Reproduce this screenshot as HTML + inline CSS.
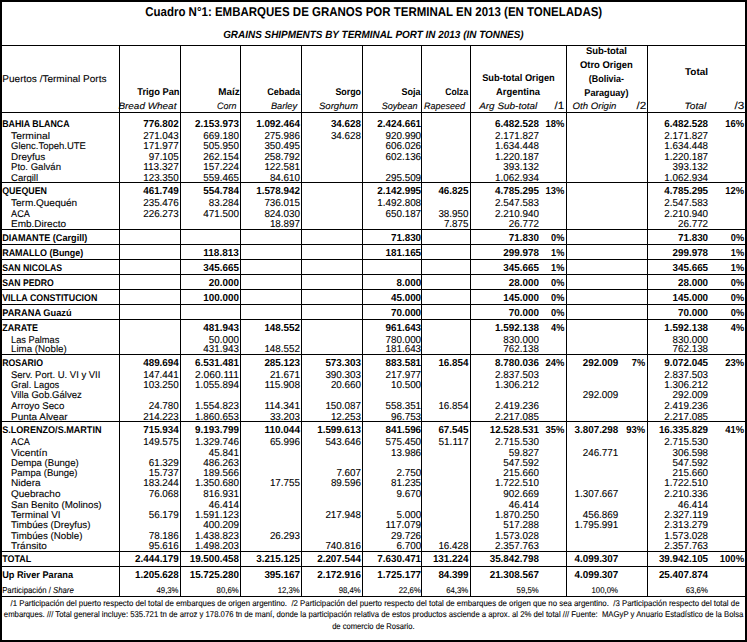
<!DOCTYPE html>
<html lang="es"><head><meta charset="utf-8"><title>Cuadro N°1: Embarques de granos por terminal en 2013</title>
<style>html,body{margin:0;padding:0;background:#fff;}body{width:747px;height:642px;overflow:hidden;}svg{display:block;}text{white-space:pre;}</style>
</head><body>
<svg width="747" height="642" viewBox="0 0 747 642" text-rendering="geometricPrecision">
<rect x="0" y="0" width="747" height="642" fill="#fff"/>
<g font-family='"Liberation Sans", sans-serif' fill="#000" stroke="#000" stroke-width="0.1" stroke-linejoin="round">
<text x="373.70" y="16.10" font-size="12.8" text-anchor="middle" font-weight="bold" stroke="none" textLength="457.0" lengthAdjust="spacingAndGlyphs">Cuadro N°1: EMBARQUES DE GRANOS POR TERMINAL EN 2013 (EN TONELADAS)</text>
<text x="373.40" y="37.70" font-size="10.5" text-anchor="middle" font-weight="bold" stroke="none" font-style="italic" textLength="300.5" lengthAdjust="spacingAndGlyphs">GRAINS SHIPMENTS BY TERMINAL PORT IN 2013 (IN TONNES)</text>
<text x="2.30" y="81.80" font-size="9.7" textLength="104.2" lengthAdjust="spacingAndGlyphs">Puertos /Terminal Ports</text>
<text x="179.50" y="95.00" font-size="9.8" text-anchor="end" font-weight="bold" stroke="none" textLength="42.2" lengthAdjust="spacingAndGlyphs">Trigo Pan</text>
<text x="176.40" y="108.60" font-size="9.2" text-anchor="end" font-style="italic" textLength="58.0" lengthAdjust="spacingAndGlyphs">Bread Wheat</text>
<text x="239.60" y="95.00" font-size="9.8" text-anchor="end" font-weight="bold" stroke="none" textLength="21.4" lengthAdjust="spacingAndGlyphs">Maíz</text>
<text x="236.50" y="108.60" font-size="9.2" text-anchor="end" font-style="italic" textLength="19.4" lengthAdjust="spacingAndGlyphs">Corn</text>
<text x="300.20" y="95.00" font-size="9.8" text-anchor="end" font-weight="bold" stroke="none" textLength="33.0" lengthAdjust="spacingAndGlyphs">Cebada</text>
<text x="297.10" y="108.60" font-size="9.2" text-anchor="end" font-style="italic" textLength="26.2" lengthAdjust="spacingAndGlyphs">Barley</text>
<text x="361.00" y="95.00" font-size="9.8" text-anchor="end" font-weight="bold" stroke="none" textLength="25.6" lengthAdjust="spacingAndGlyphs">Sorgo</text>
<text x="357.90" y="108.60" font-size="9.2" text-anchor="end" font-style="italic" textLength="39.0" lengthAdjust="spacingAndGlyphs">Sorghum</text>
<text x="420.60" y="95.00" font-size="9.8" text-anchor="end" font-weight="bold" stroke="none" textLength="19.0" lengthAdjust="spacingAndGlyphs">Soja</text>
<text x="417.50" y="108.60" font-size="9.2" text-anchor="end" font-style="italic" textLength="35.8" lengthAdjust="spacingAndGlyphs">Soybean</text>
<text x="468.20" y="95.00" font-size="9.8" text-anchor="end" font-weight="bold" stroke="none" textLength="22.9" lengthAdjust="spacingAndGlyphs">Colza</text>
<text x="465.10" y="108.60" font-size="9.2" text-anchor="end" font-style="italic" textLength="41.0" lengthAdjust="spacingAndGlyphs">Rapeseed</text>
<text x="518.50" y="81.00" font-size="9.8" text-anchor="middle" font-weight="bold" stroke="none" textLength="72.6" lengthAdjust="spacingAndGlyphs">Sub-total Origen</text>
<text x="518.00" y="95.00" font-size="9.8" text-anchor="middle" font-weight="bold" stroke="none" textLength="44.0" lengthAdjust="spacingAndGlyphs">Argentina</text>
<text x="479.20" y="108.60" font-size="9.2" font-style="italic" textLength="58.0" lengthAdjust="spacingAndGlyphs">Arg Sub-total</text>
<text x="554.50" y="108.80" font-size="10.4" textLength="9.8" lengthAdjust="spacingAndGlyphs">/1</text>
<text x="606.40" y="53.60" font-size="9.8" text-anchor="middle" font-weight="bold" stroke="none" textLength="41.0" lengthAdjust="spacingAndGlyphs">Sub-total</text>
<text x="606.40" y="67.80" font-size="9.8" text-anchor="middle" font-weight="bold" stroke="none" textLength="53.0" lengthAdjust="spacingAndGlyphs">Otro Origen</text>
<text x="606.40" y="81.70" font-size="9.8" text-anchor="middle" font-weight="bold" stroke="none" textLength="35.2" lengthAdjust="spacingAndGlyphs">(Bolivia-</text>
<text x="606.40" y="95.80" font-size="9.8" text-anchor="middle" font-weight="bold" stroke="none" textLength="44.2" lengthAdjust="spacingAndGlyphs">Paraguay)</text>
<text x="572.60" y="108.60" font-size="9.2" font-style="italic" textLength="43.8" lengthAdjust="spacingAndGlyphs">Oth Origin</text>
<text x="636.40" y="108.80" font-size="10.4" textLength="9.8" lengthAdjust="spacingAndGlyphs">/2</text>
<text x="696.50" y="74.80" font-size="9.8" text-anchor="middle" font-weight="bold" stroke="none" textLength="23.0" lengthAdjust="spacingAndGlyphs">Total</text>
<text x="684.60" y="109.00" font-size="9.2" font-style="italic" textLength="21.6" lengthAdjust="spacingAndGlyphs">Total</text>
<text x="734.60" y="109.00" font-size="10.4" textLength="9.8" lengthAdjust="spacingAndGlyphs">/3</text>
<text x="2.20" y="127.00" font-size="9.7" font-weight="bold" stroke="none" textLength="67.4" lengthAdjust="spacingAndGlyphs">BAHIA BLANCA</text>
<text x="178.80" y="127.00" font-size="10.1" text-anchor="end" font-weight="bold" stroke="none" textLength="35.6" lengthAdjust="spacingAndGlyphs">776.802</text>
<text x="238.90" y="127.00" font-size="10.1" text-anchor="end" font-weight="bold" stroke="none" textLength="43.8" lengthAdjust="spacingAndGlyphs">2.153.973</text>
<text x="300.00" y="127.00" font-size="10.1" text-anchor="end" font-weight="bold" stroke="none" textLength="43.8" lengthAdjust="spacingAndGlyphs">1.092.464</text>
<text x="361.00" y="127.00" font-size="10.1" text-anchor="end" font-weight="bold" stroke="none" textLength="30.1" lengthAdjust="spacingAndGlyphs">34.628</text>
<text x="421.10" y="127.00" font-size="10.1" text-anchor="end" font-weight="bold" stroke="none" textLength="43.8" lengthAdjust="spacingAndGlyphs">2.424.661</text>
<text x="538.90" y="127.00" font-size="10.1" text-anchor="end" font-weight="bold" stroke="none" textLength="43.8" lengthAdjust="spacingAndGlyphs">6.482.528</text>
<text x="564.40" y="127.00" font-size="10.1" text-anchor="end" font-weight="bold" stroke="none" textLength="18.8" lengthAdjust="spacingAndGlyphs">18%</text>
<text x="708.10" y="127.00" font-size="10.1" text-anchor="end" font-weight="bold" stroke="none" textLength="43.8" lengthAdjust="spacingAndGlyphs">6.482.528</text>
<text x="744.10" y="127.00" font-size="10.1" text-anchor="end" font-weight="bold" stroke="none" textLength="18.8" lengthAdjust="spacingAndGlyphs">16%</text>
<text x="11.00" y="138.90" font-size="9.7" textLength="39.0" lengthAdjust="spacingAndGlyphs">Terminal</text>
<text x="178.80" y="138.90" font-size="10.1" text-anchor="end" textLength="35.6" lengthAdjust="spacingAndGlyphs">271.043</text>
<text x="238.90" y="138.90" font-size="10.1" text-anchor="end" textLength="35.6" lengthAdjust="spacingAndGlyphs">669.180</text>
<text x="300.00" y="138.90" font-size="10.1" text-anchor="end" textLength="35.6" lengthAdjust="spacingAndGlyphs">275.986</text>
<text x="361.00" y="138.90" font-size="10.1" text-anchor="end" textLength="30.1" lengthAdjust="spacingAndGlyphs">34.628</text>
<text x="421.10" y="138.90" font-size="10.1" text-anchor="end" textLength="35.6" lengthAdjust="spacingAndGlyphs">920.990</text>
<text x="538.90" y="138.90" font-size="10.1" text-anchor="end" textLength="43.8" lengthAdjust="spacingAndGlyphs">2.171.827</text>
<text x="708.10" y="138.90" font-size="10.1" text-anchor="end" textLength="43.8" lengthAdjust="spacingAndGlyphs">2.171.827</text>
<text x="11.00" y="149.35" font-size="9.7" textLength="74.9" lengthAdjust="spacingAndGlyphs">Glenc.Topeh.UTE</text>
<text x="178.80" y="149.35" font-size="10.1" text-anchor="end" textLength="35.6" lengthAdjust="spacingAndGlyphs">171.977</text>
<text x="238.90" y="149.35" font-size="10.1" text-anchor="end" textLength="35.6" lengthAdjust="spacingAndGlyphs">505.950</text>
<text x="300.00" y="149.35" font-size="10.1" text-anchor="end" textLength="35.6" lengthAdjust="spacingAndGlyphs">350.495</text>
<text x="421.10" y="149.35" font-size="10.1" text-anchor="end" textLength="35.6" lengthAdjust="spacingAndGlyphs">606.026</text>
<text x="538.90" y="149.35" font-size="10.1" text-anchor="end" textLength="43.8" lengthAdjust="spacingAndGlyphs">1.634.448</text>
<text x="708.10" y="149.35" font-size="10.1" text-anchor="end" textLength="43.8" lengthAdjust="spacingAndGlyphs">1.634.448</text>
<text x="11.00" y="159.80" font-size="9.7" textLength="34.1" lengthAdjust="spacingAndGlyphs">Dreyfus</text>
<text x="178.80" y="159.80" font-size="10.1" text-anchor="end" textLength="30.1" lengthAdjust="spacingAndGlyphs">97.105</text>
<text x="238.90" y="159.80" font-size="10.1" text-anchor="end" textLength="35.6" lengthAdjust="spacingAndGlyphs">262.154</text>
<text x="300.00" y="159.80" font-size="10.1" text-anchor="end" textLength="35.6" lengthAdjust="spacingAndGlyphs">258.792</text>
<text x="421.10" y="159.80" font-size="10.1" text-anchor="end" textLength="35.6" lengthAdjust="spacingAndGlyphs">602.136</text>
<text x="538.90" y="159.80" font-size="10.1" text-anchor="end" textLength="43.8" lengthAdjust="spacingAndGlyphs">1.220.187</text>
<text x="708.10" y="159.80" font-size="10.1" text-anchor="end" textLength="43.8" lengthAdjust="spacingAndGlyphs">1.220.187</text>
<text x="11.00" y="170.25" font-size="9.7" textLength="50.0" lengthAdjust="spacingAndGlyphs">Pto. Galván</text>
<text x="178.80" y="170.25" font-size="10.1" text-anchor="end" textLength="35.6" lengthAdjust="spacingAndGlyphs">113.327</text>
<text x="238.90" y="170.25" font-size="10.1" text-anchor="end" textLength="35.6" lengthAdjust="spacingAndGlyphs">157.224</text>
<text x="300.00" y="170.25" font-size="10.1" text-anchor="end" textLength="35.6" lengthAdjust="spacingAndGlyphs">122.581</text>
<text x="538.90" y="170.25" font-size="10.1" text-anchor="end" textLength="35.6" lengthAdjust="spacingAndGlyphs">393.132</text>
<text x="708.10" y="170.25" font-size="10.1" text-anchor="end" textLength="35.6" lengthAdjust="spacingAndGlyphs">393.132</text>
<text x="11.00" y="180.70" font-size="9.7" textLength="27.1" lengthAdjust="spacingAndGlyphs">Cargill</text>
<text x="178.80" y="180.70" font-size="10.1" text-anchor="end" textLength="35.6" lengthAdjust="spacingAndGlyphs">123.350</text>
<text x="238.90" y="180.70" font-size="10.1" text-anchor="end" textLength="35.6" lengthAdjust="spacingAndGlyphs">559.465</text>
<text x="300.00" y="180.70" font-size="10.1" text-anchor="end" textLength="30.1" lengthAdjust="spacingAndGlyphs">84.610</text>
<text x="421.10" y="180.70" font-size="10.1" text-anchor="end" textLength="35.6" lengthAdjust="spacingAndGlyphs">295.509</text>
<text x="538.90" y="180.70" font-size="10.1" text-anchor="end" textLength="43.8" lengthAdjust="spacingAndGlyphs">1.062.934</text>
<text x="708.10" y="180.70" font-size="10.1" text-anchor="end" textLength="43.8" lengthAdjust="spacingAndGlyphs">1.062.934</text>
<text x="2.20" y="194.20" font-size="9.7" font-weight="bold" stroke="none" textLength="44.8" lengthAdjust="spacingAndGlyphs">QUEQUEN</text>
<text x="178.80" y="194.20" font-size="10.1" text-anchor="end" font-weight="bold" stroke="none" textLength="35.6" lengthAdjust="spacingAndGlyphs">461.749</text>
<text x="238.90" y="194.20" font-size="10.1" text-anchor="end" font-weight="bold" stroke="none" textLength="35.6" lengthAdjust="spacingAndGlyphs">554.784</text>
<text x="300.00" y="194.20" font-size="10.1" text-anchor="end" font-weight="bold" stroke="none" textLength="43.8" lengthAdjust="spacingAndGlyphs">1.578.942</text>
<text x="421.10" y="194.20" font-size="10.1" text-anchor="end" font-weight="bold" stroke="none" textLength="43.8" lengthAdjust="spacingAndGlyphs">2.142.995</text>
<text x="468.50" y="194.20" font-size="10.1" text-anchor="end" font-weight="bold" stroke="none" textLength="30.1" lengthAdjust="spacingAndGlyphs">46.825</text>
<text x="538.90" y="194.20" font-size="10.1" text-anchor="end" font-weight="bold" stroke="none" textLength="43.8" lengthAdjust="spacingAndGlyphs">4.785.295</text>
<text x="564.40" y="194.20" font-size="10.1" text-anchor="end" font-weight="bold" stroke="none" textLength="18.8" lengthAdjust="spacingAndGlyphs">13%</text>
<text x="708.10" y="194.20" font-size="10.1" text-anchor="end" font-weight="bold" stroke="none" textLength="43.8" lengthAdjust="spacingAndGlyphs">4.785.295</text>
<text x="744.10" y="194.20" font-size="10.1" text-anchor="end" font-weight="bold" stroke="none" textLength="18.8" lengthAdjust="spacingAndGlyphs">12%</text>
<text x="11.00" y="206.30" font-size="9.7" textLength="66.2" lengthAdjust="spacingAndGlyphs">Term.Quequén</text>
<text x="178.80" y="206.30" font-size="10.1" text-anchor="end" textLength="35.6" lengthAdjust="spacingAndGlyphs">235.476</text>
<text x="238.90" y="206.30" font-size="10.1" text-anchor="end" textLength="30.1" lengthAdjust="spacingAndGlyphs">83.284</text>
<text x="300.00" y="206.30" font-size="10.1" text-anchor="end" textLength="35.6" lengthAdjust="spacingAndGlyphs">736.015</text>
<text x="421.10" y="206.30" font-size="10.1" text-anchor="end" textLength="43.8" lengthAdjust="spacingAndGlyphs">1.492.808</text>
<text x="538.90" y="206.30" font-size="10.1" text-anchor="end" textLength="43.8" lengthAdjust="spacingAndGlyphs">2.547.583</text>
<text x="708.10" y="206.30" font-size="10.1" text-anchor="end" textLength="43.8" lengthAdjust="spacingAndGlyphs">2.547.583</text>
<text x="11.00" y="216.70" font-size="9.7" textLength="18.9" lengthAdjust="spacingAndGlyphs">ACA</text>
<text x="178.80" y="216.70" font-size="10.1" text-anchor="end" textLength="35.6" lengthAdjust="spacingAndGlyphs">226.273</text>
<text x="238.90" y="216.70" font-size="10.1" text-anchor="end" textLength="35.6" lengthAdjust="spacingAndGlyphs">471.500</text>
<text x="300.00" y="216.70" font-size="10.1" text-anchor="end" textLength="35.6" lengthAdjust="spacingAndGlyphs">824.030</text>
<text x="421.10" y="216.70" font-size="10.1" text-anchor="end" textLength="35.6" lengthAdjust="spacingAndGlyphs">650.187</text>
<text x="468.50" y="216.70" font-size="10.1" text-anchor="end" textLength="30.1" lengthAdjust="spacingAndGlyphs">38.950</text>
<text x="538.90" y="216.70" font-size="10.1" text-anchor="end" textLength="43.8" lengthAdjust="spacingAndGlyphs">2.210.940</text>
<text x="708.10" y="216.70" font-size="10.1" text-anchor="end" textLength="43.8" lengthAdjust="spacingAndGlyphs">2.210.940</text>
<text x="11.00" y="227.10" font-size="9.7" textLength="55.0" lengthAdjust="spacingAndGlyphs">Emb.Directo</text>
<text x="300.00" y="227.10" font-size="10.1" text-anchor="end" textLength="30.1" lengthAdjust="spacingAndGlyphs">18.897</text>
<text x="468.50" y="227.10" font-size="10.1" text-anchor="end" textLength="24.6" lengthAdjust="spacingAndGlyphs">7.875</text>
<text x="538.90" y="227.10" font-size="10.1" text-anchor="end" textLength="30.1" lengthAdjust="spacingAndGlyphs">26.772</text>
<text x="708.10" y="227.10" font-size="10.1" text-anchor="end" textLength="30.1" lengthAdjust="spacingAndGlyphs">26.772</text>
<text x="2.20" y="240.60" font-size="9.7" font-weight="bold" stroke="none" textLength="85.1" lengthAdjust="spacingAndGlyphs">DIAMANTE (Cargill)</text>
<text x="421.10" y="240.60" font-size="10.1" text-anchor="end" font-weight="bold" stroke="none" textLength="30.1" lengthAdjust="spacingAndGlyphs">71.830</text>
<text x="538.90" y="240.60" font-size="10.1" text-anchor="end" font-weight="bold" stroke="none" textLength="30.1" lengthAdjust="spacingAndGlyphs">71.830</text>
<text x="564.40" y="240.60" font-size="10.1" text-anchor="end" font-weight="bold" stroke="none" textLength="13.3" lengthAdjust="spacingAndGlyphs">0%</text>
<text x="708.10" y="240.60" font-size="10.1" text-anchor="end" font-weight="bold" stroke="none" textLength="30.1" lengthAdjust="spacingAndGlyphs">71.830</text>
<text x="744.10" y="240.60" font-size="10.1" text-anchor="end" font-weight="bold" stroke="none" textLength="13.3" lengthAdjust="spacingAndGlyphs">0%</text>
<text x="2.20" y="255.80" font-size="9.7" font-weight="bold" stroke="none" textLength="81.1" lengthAdjust="spacingAndGlyphs">RAMALLO (Bunge)</text>
<text x="238.90" y="255.80" font-size="10.1" text-anchor="end" font-weight="bold" stroke="none" textLength="35.6" lengthAdjust="spacingAndGlyphs">118.813</text>
<text x="421.10" y="255.80" font-size="10.1" text-anchor="end" font-weight="bold" stroke="none" textLength="35.6" lengthAdjust="spacingAndGlyphs">181.165</text>
<text x="538.90" y="255.80" font-size="10.1" text-anchor="end" font-weight="bold" stroke="none" textLength="35.6" lengthAdjust="spacingAndGlyphs">299.978</text>
<text x="564.40" y="255.80" font-size="10.1" text-anchor="end" font-weight="bold" stroke="none" textLength="13.3" lengthAdjust="spacingAndGlyphs">1%</text>
<text x="708.10" y="255.80" font-size="10.1" text-anchor="end" font-weight="bold" stroke="none" textLength="35.6" lengthAdjust="spacingAndGlyphs">299.978</text>
<text x="744.10" y="255.80" font-size="10.1" text-anchor="end" font-weight="bold" stroke="none" textLength="13.3" lengthAdjust="spacingAndGlyphs">1%</text>
<text x="2.20" y="270.80" font-size="9.7" font-weight="bold" stroke="none" textLength="60.0" lengthAdjust="spacingAndGlyphs">SAN NICOLAS</text>
<text x="238.90" y="270.80" font-size="10.1" text-anchor="end" font-weight="bold" stroke="none" textLength="35.6" lengthAdjust="spacingAndGlyphs">345.665</text>
<text x="538.90" y="270.80" font-size="10.1" text-anchor="end" font-weight="bold" stroke="none" textLength="35.6" lengthAdjust="spacingAndGlyphs">345.665</text>
<text x="564.40" y="270.80" font-size="10.1" text-anchor="end" font-weight="bold" stroke="none" textLength="13.3" lengthAdjust="spacingAndGlyphs">1%</text>
<text x="708.10" y="270.80" font-size="10.1" text-anchor="end" font-weight="bold" stroke="none" textLength="35.6" lengthAdjust="spacingAndGlyphs">345.665</text>
<text x="744.10" y="270.80" font-size="10.1" text-anchor="end" font-weight="bold" stroke="none" textLength="13.3" lengthAdjust="spacingAndGlyphs">1%</text>
<text x="2.20" y="285.80" font-size="9.7" font-weight="bold" stroke="none" textLength="51.5" lengthAdjust="spacingAndGlyphs">SAN PEDRO</text>
<text x="238.90" y="285.80" font-size="10.1" text-anchor="end" font-weight="bold" stroke="none" textLength="30.1" lengthAdjust="spacingAndGlyphs">20.000</text>
<text x="421.10" y="285.80" font-size="10.1" text-anchor="end" font-weight="bold" stroke="none" textLength="24.6" lengthAdjust="spacingAndGlyphs">8.000</text>
<text x="538.90" y="285.80" font-size="10.1" text-anchor="end" font-weight="bold" stroke="none" textLength="30.1" lengthAdjust="spacingAndGlyphs">28.000</text>
<text x="564.40" y="285.80" font-size="10.1" text-anchor="end" font-weight="bold" stroke="none" textLength="13.3" lengthAdjust="spacingAndGlyphs">0%</text>
<text x="708.10" y="285.80" font-size="10.1" text-anchor="end" font-weight="bold" stroke="none" textLength="30.1" lengthAdjust="spacingAndGlyphs">28.000</text>
<text x="744.10" y="285.80" font-size="10.1" text-anchor="end" font-weight="bold" stroke="none" textLength="13.3" lengthAdjust="spacingAndGlyphs">0%</text>
<text x="2.20" y="300.80" font-size="9.7" font-weight="bold" stroke="none" textLength="95.1" lengthAdjust="spacingAndGlyphs">VILLA CONSTITUCION</text>
<text x="238.90" y="300.80" font-size="10.1" text-anchor="end" font-weight="bold" stroke="none" textLength="35.6" lengthAdjust="spacingAndGlyphs">100.000</text>
<text x="421.10" y="300.80" font-size="10.1" text-anchor="end" font-weight="bold" stroke="none" textLength="30.1" lengthAdjust="spacingAndGlyphs">45.000</text>
<text x="538.90" y="300.80" font-size="10.1" text-anchor="end" font-weight="bold" stroke="none" textLength="35.6" lengthAdjust="spacingAndGlyphs">145.000</text>
<text x="564.40" y="300.80" font-size="10.1" text-anchor="end" font-weight="bold" stroke="none" textLength="13.3" lengthAdjust="spacingAndGlyphs">0%</text>
<text x="708.10" y="300.80" font-size="10.1" text-anchor="end" font-weight="bold" stroke="none" textLength="35.6" lengthAdjust="spacingAndGlyphs">145.000</text>
<text x="744.10" y="300.80" font-size="10.1" text-anchor="end" font-weight="bold" stroke="none" textLength="13.3" lengthAdjust="spacingAndGlyphs">0%</text>
<text x="2.20" y="315.80" font-size="9.7" font-weight="bold" stroke="none" textLength="69.4" lengthAdjust="spacingAndGlyphs">PARANA Guazú</text>
<text x="421.10" y="315.80" font-size="10.1" text-anchor="end" font-weight="bold" stroke="none" textLength="30.1" lengthAdjust="spacingAndGlyphs">70.000</text>
<text x="538.90" y="315.80" font-size="10.1" text-anchor="end" font-weight="bold" stroke="none" textLength="30.1" lengthAdjust="spacingAndGlyphs">70.000</text>
<text x="564.40" y="315.80" font-size="10.1" text-anchor="end" font-weight="bold" stroke="none" textLength="13.3" lengthAdjust="spacingAndGlyphs">0%</text>
<text x="708.10" y="315.80" font-size="10.1" text-anchor="end" font-weight="bold" stroke="none" textLength="30.1" lengthAdjust="spacingAndGlyphs">70.000</text>
<text x="744.10" y="315.80" font-size="10.1" text-anchor="end" font-weight="bold" stroke="none" textLength="13.3" lengthAdjust="spacingAndGlyphs">0%</text>
<text x="2.20" y="331.00" font-size="9.7" font-weight="bold" stroke="none" textLength="35.8" lengthAdjust="spacingAndGlyphs">ZARATE</text>
<text x="238.90" y="331.00" font-size="10.1" text-anchor="end" font-weight="bold" stroke="none" textLength="35.6" lengthAdjust="spacingAndGlyphs">481.943</text>
<text x="300.00" y="331.00" font-size="10.1" text-anchor="end" font-weight="bold" stroke="none" textLength="35.6" lengthAdjust="spacingAndGlyphs">148.552</text>
<text x="421.10" y="331.00" font-size="10.1" text-anchor="end" font-weight="bold" stroke="none" textLength="35.6" lengthAdjust="spacingAndGlyphs">961.643</text>
<text x="538.90" y="331.00" font-size="10.1" text-anchor="end" font-weight="bold" stroke="none" textLength="43.8" lengthAdjust="spacingAndGlyphs">1.592.138</text>
<text x="564.40" y="331.00" font-size="10.1" text-anchor="end" font-weight="bold" stroke="none" textLength="13.3" lengthAdjust="spacingAndGlyphs">4%</text>
<text x="708.10" y="331.00" font-size="10.1" text-anchor="end" font-weight="bold" stroke="none" textLength="43.8" lengthAdjust="spacingAndGlyphs">1.592.138</text>
<text x="744.10" y="331.00" font-size="10.1" text-anchor="end" font-weight="bold" stroke="none" textLength="13.3" lengthAdjust="spacingAndGlyphs">4%</text>
<text x="11.00" y="342.50" font-size="9.7" textLength="48.3" lengthAdjust="spacingAndGlyphs">Las Palmas</text>
<text x="238.90" y="342.50" font-size="10.1" text-anchor="end" textLength="30.1" lengthAdjust="spacingAndGlyphs">50.000</text>
<text x="421.10" y="342.50" font-size="10.1" text-anchor="end" textLength="35.6" lengthAdjust="spacingAndGlyphs">780.000</text>
<text x="538.90" y="342.50" font-size="10.1" text-anchor="end" textLength="35.6" lengthAdjust="spacingAndGlyphs">830.000</text>
<text x="708.10" y="342.50" font-size="10.1" text-anchor="end" textLength="35.6" lengthAdjust="spacingAndGlyphs">830.000</text>
<text x="11.00" y="351.80" font-size="9.7" textLength="55.7" lengthAdjust="spacingAndGlyphs">Lima (Noble)</text>
<text x="238.90" y="351.80" font-size="10.1" text-anchor="end" textLength="35.6" lengthAdjust="spacingAndGlyphs">431.943</text>
<text x="300.00" y="351.80" font-size="10.1" text-anchor="end" textLength="35.6" lengthAdjust="spacingAndGlyphs">148.552</text>
<text x="421.10" y="351.80" font-size="10.1" text-anchor="end" textLength="35.6" lengthAdjust="spacingAndGlyphs">181.643</text>
<text x="538.90" y="351.80" font-size="10.1" text-anchor="end" textLength="35.6" lengthAdjust="spacingAndGlyphs">762.138</text>
<text x="708.10" y="351.80" font-size="10.1" text-anchor="end" textLength="35.6" lengthAdjust="spacingAndGlyphs">762.138</text>
<text x="2.20" y="366.00" font-size="9.7" font-weight="bold" stroke="none" textLength="40.8" lengthAdjust="spacingAndGlyphs">ROSARIO</text>
<text x="178.80" y="366.00" font-size="10.1" text-anchor="end" font-weight="bold" stroke="none" textLength="35.6" lengthAdjust="spacingAndGlyphs">489.694</text>
<text x="238.90" y="366.00" font-size="10.1" text-anchor="end" font-weight="bold" stroke="none" textLength="43.8" lengthAdjust="spacingAndGlyphs">6.531.481</text>
<text x="300.00" y="366.00" font-size="10.1" text-anchor="end" font-weight="bold" stroke="none" textLength="35.6" lengthAdjust="spacingAndGlyphs">285.123</text>
<text x="361.00" y="366.00" font-size="10.1" text-anchor="end" font-weight="bold" stroke="none" textLength="35.6" lengthAdjust="spacingAndGlyphs">573.303</text>
<text x="421.10" y="366.00" font-size="10.1" text-anchor="end" font-weight="bold" stroke="none" textLength="35.6" lengthAdjust="spacingAndGlyphs">883.581</text>
<text x="468.50" y="366.00" font-size="10.1" text-anchor="end" font-weight="bold" stroke="none" textLength="30.1" lengthAdjust="spacingAndGlyphs">16.854</text>
<text x="538.90" y="366.00" font-size="10.1" text-anchor="end" font-weight="bold" stroke="none" textLength="43.8" lengthAdjust="spacingAndGlyphs">8.780.036</text>
<text x="564.40" y="366.00" font-size="10.1" text-anchor="end" font-weight="bold" stroke="none" textLength="18.8" lengthAdjust="spacingAndGlyphs">24%</text>
<text x="618.30" y="366.00" font-size="10.1" text-anchor="end" font-weight="bold" stroke="none" textLength="35.6" lengthAdjust="spacingAndGlyphs">292.009</text>
<text x="645.10" y="366.00" font-size="10.1" text-anchor="end" font-weight="bold" stroke="none" textLength="13.3" lengthAdjust="spacingAndGlyphs">7%</text>
<text x="708.10" y="366.00" font-size="10.1" text-anchor="end" font-weight="bold" stroke="none" textLength="43.8" lengthAdjust="spacingAndGlyphs">9.072.045</text>
<text x="744.10" y="366.00" font-size="10.1" text-anchor="end" font-weight="bold" stroke="none" textLength="18.8" lengthAdjust="spacingAndGlyphs">23%</text>
<text x="11.00" y="377.50" font-size="9.7" textLength="89.4" lengthAdjust="spacingAndGlyphs">Serv. Port. U. VI y VII</text>
<text x="178.80" y="377.50" font-size="10.1" text-anchor="end" textLength="35.6" lengthAdjust="spacingAndGlyphs">147.441</text>
<text x="238.90" y="377.50" font-size="10.1" text-anchor="end" textLength="43.8" lengthAdjust="spacingAndGlyphs">2.060.111</text>
<text x="300.00" y="377.50" font-size="10.1" text-anchor="end" textLength="30.1" lengthAdjust="spacingAndGlyphs">21.671</text>
<text x="361.00" y="377.50" font-size="10.1" text-anchor="end" textLength="35.6" lengthAdjust="spacingAndGlyphs">390.303</text>
<text x="421.10" y="377.50" font-size="10.1" text-anchor="end" textLength="35.6" lengthAdjust="spacingAndGlyphs">217.977</text>
<text x="538.90" y="377.50" font-size="10.1" text-anchor="end" textLength="43.8" lengthAdjust="spacingAndGlyphs">2.837.503</text>
<text x="708.10" y="377.50" font-size="10.1" text-anchor="end" textLength="43.8" lengthAdjust="spacingAndGlyphs">2.837.503</text>
<text x="11.00" y="387.90" font-size="9.7" textLength="48.3" lengthAdjust="spacingAndGlyphs">Gral. Lagos</text>
<text x="178.80" y="387.90" font-size="10.1" text-anchor="end" textLength="35.6" lengthAdjust="spacingAndGlyphs">103.250</text>
<text x="238.90" y="387.90" font-size="10.1" text-anchor="end" textLength="43.8" lengthAdjust="spacingAndGlyphs">1.055.894</text>
<text x="300.00" y="387.90" font-size="10.1" text-anchor="end" textLength="35.6" lengthAdjust="spacingAndGlyphs">115.908</text>
<text x="361.00" y="387.90" font-size="10.1" text-anchor="end" textLength="30.1" lengthAdjust="spacingAndGlyphs">20.660</text>
<text x="421.10" y="387.90" font-size="10.1" text-anchor="end" textLength="30.1" lengthAdjust="spacingAndGlyphs">10.500</text>
<text x="538.90" y="387.90" font-size="10.1" text-anchor="end" textLength="43.8" lengthAdjust="spacingAndGlyphs">1.306.212</text>
<text x="708.10" y="387.90" font-size="10.1" text-anchor="end" textLength="43.8" lengthAdjust="spacingAndGlyphs">1.306.212</text>
<text x="11.00" y="398.30" font-size="9.7" textLength="70.7" lengthAdjust="spacingAndGlyphs">Villa Gob.Gálvez</text>
<text x="618.30" y="398.30" font-size="10.1" text-anchor="end" textLength="35.6" lengthAdjust="spacingAndGlyphs">292.009</text>
<text x="708.10" y="398.30" font-size="10.1" text-anchor="end" textLength="35.6" lengthAdjust="spacingAndGlyphs">292.009</text>
<text x="11.00" y="408.70" font-size="9.7" textLength="53.3" lengthAdjust="spacingAndGlyphs">Arroyo Seco</text>
<text x="178.80" y="408.70" font-size="10.1" text-anchor="end" textLength="30.1" lengthAdjust="spacingAndGlyphs">24.780</text>
<text x="238.90" y="408.70" font-size="10.1" text-anchor="end" textLength="43.8" lengthAdjust="spacingAndGlyphs">1.554.823</text>
<text x="300.00" y="408.70" font-size="10.1" text-anchor="end" textLength="35.6" lengthAdjust="spacingAndGlyphs">114.341</text>
<text x="361.00" y="408.70" font-size="10.1" text-anchor="end" textLength="35.6" lengthAdjust="spacingAndGlyphs">150.087</text>
<text x="421.10" y="408.70" font-size="10.1" text-anchor="end" textLength="35.6" lengthAdjust="spacingAndGlyphs">558.351</text>
<text x="468.50" y="408.70" font-size="10.1" text-anchor="end" textLength="30.1" lengthAdjust="spacingAndGlyphs">16.854</text>
<text x="538.90" y="408.70" font-size="10.1" text-anchor="end" textLength="43.8" lengthAdjust="spacingAndGlyphs">2.419.236</text>
<text x="708.10" y="408.70" font-size="10.1" text-anchor="end" textLength="43.8" lengthAdjust="spacingAndGlyphs">2.419.236</text>
<text x="11.00" y="419.60" font-size="9.7" textLength="56.5" lengthAdjust="spacingAndGlyphs">Punta Alvear</text>
<text x="178.80" y="419.60" font-size="10.1" text-anchor="end" textLength="35.6" lengthAdjust="spacingAndGlyphs">214.223</text>
<text x="238.90" y="419.60" font-size="10.1" text-anchor="end" textLength="43.8" lengthAdjust="spacingAndGlyphs">1.860.653</text>
<text x="300.00" y="419.60" font-size="10.1" text-anchor="end" textLength="30.1" lengthAdjust="spacingAndGlyphs">33.203</text>
<text x="361.00" y="419.60" font-size="10.1" text-anchor="end" textLength="30.1" lengthAdjust="spacingAndGlyphs">12.253</text>
<text x="421.10" y="419.60" font-size="10.1" text-anchor="end" textLength="30.1" lengthAdjust="spacingAndGlyphs">96.753</text>
<text x="538.90" y="419.60" font-size="10.1" text-anchor="end" textLength="43.8" lengthAdjust="spacingAndGlyphs">2.217.085</text>
<text x="708.10" y="419.60" font-size="10.1" text-anchor="end" textLength="43.8" lengthAdjust="spacingAndGlyphs">2.217.085</text>
<text x="2.20" y="432.90" font-size="9.7" font-weight="bold" stroke="none" textLength="99.3" lengthAdjust="spacingAndGlyphs">S.LORENZO/S.MARTIN</text>
<text x="178.80" y="432.90" font-size="10.1" text-anchor="end" font-weight="bold" stroke="none" textLength="35.6" lengthAdjust="spacingAndGlyphs">715.934</text>
<text x="238.90" y="432.90" font-size="10.1" text-anchor="end" font-weight="bold" stroke="none" textLength="43.8" lengthAdjust="spacingAndGlyphs">9.193.799</text>
<text x="300.00" y="432.90" font-size="10.1" text-anchor="end" font-weight="bold" stroke="none" textLength="35.6" lengthAdjust="spacingAndGlyphs">110.044</text>
<text x="361.00" y="432.90" font-size="10.1" text-anchor="end" font-weight="bold" stroke="none" textLength="43.8" lengthAdjust="spacingAndGlyphs">1.599.613</text>
<text x="421.10" y="432.90" font-size="10.1" text-anchor="end" font-weight="bold" stroke="none" textLength="35.6" lengthAdjust="spacingAndGlyphs">841.596</text>
<text x="468.50" y="432.90" font-size="10.1" text-anchor="end" font-weight="bold" stroke="none" textLength="30.1" lengthAdjust="spacingAndGlyphs">67.545</text>
<text x="538.90" y="432.90" font-size="10.1" text-anchor="end" font-weight="bold" stroke="none" textLength="49.2" lengthAdjust="spacingAndGlyphs">12.528.531</text>
<text x="564.40" y="432.90" font-size="10.1" text-anchor="end" font-weight="bold" stroke="none" textLength="18.8" lengthAdjust="spacingAndGlyphs">35%</text>
<text x="618.30" y="432.90" font-size="10.1" text-anchor="end" font-weight="bold" stroke="none" textLength="43.8" lengthAdjust="spacingAndGlyphs">3.807.298</text>
<text x="645.10" y="432.90" font-size="10.1" text-anchor="end" font-weight="bold" stroke="none" textLength="18.8" lengthAdjust="spacingAndGlyphs">93%</text>
<text x="708.10" y="432.90" font-size="10.1" text-anchor="end" font-weight="bold" stroke="none" textLength="49.2" lengthAdjust="spacingAndGlyphs">16.335.829</text>
<text x="744.10" y="432.90" font-size="10.1" text-anchor="end" font-weight="bold" stroke="none" textLength="18.8" lengthAdjust="spacingAndGlyphs">41%</text>
<text x="11.00" y="444.60" font-size="9.7" textLength="18.9" lengthAdjust="spacingAndGlyphs">ACA</text>
<text x="178.80" y="444.60" font-size="10.1" text-anchor="end" textLength="35.6" lengthAdjust="spacingAndGlyphs">149.575</text>
<text x="238.90" y="444.60" font-size="10.1" text-anchor="end" textLength="43.8" lengthAdjust="spacingAndGlyphs">1.329.746</text>
<text x="300.00" y="444.60" font-size="10.1" text-anchor="end" textLength="30.1" lengthAdjust="spacingAndGlyphs">65.996</text>
<text x="361.00" y="444.60" font-size="10.1" text-anchor="end" textLength="35.6" lengthAdjust="spacingAndGlyphs">543.646</text>
<text x="421.10" y="444.60" font-size="10.1" text-anchor="end" textLength="35.6" lengthAdjust="spacingAndGlyphs">575.450</text>
<text x="468.50" y="444.60" font-size="10.1" text-anchor="end" textLength="30.1" lengthAdjust="spacingAndGlyphs">51.117</text>
<text x="538.90" y="444.60" font-size="10.1" text-anchor="end" textLength="43.8" lengthAdjust="spacingAndGlyphs">2.715.530</text>
<text x="708.10" y="444.60" font-size="10.1" text-anchor="end" textLength="43.8" lengthAdjust="spacingAndGlyphs">2.715.530</text>
<text x="11.00" y="455.70" font-size="9.7" textLength="36.3" lengthAdjust="spacingAndGlyphs">Vicentín</text>
<text x="238.90" y="455.70" font-size="10.1" text-anchor="end" textLength="30.1" lengthAdjust="spacingAndGlyphs">45.841</text>
<text x="421.10" y="455.70" font-size="10.1" text-anchor="end" textLength="30.1" lengthAdjust="spacingAndGlyphs">13.986</text>
<text x="538.90" y="455.70" font-size="10.1" text-anchor="end" textLength="30.1" lengthAdjust="spacingAndGlyphs">59.827</text>
<text x="618.30" y="455.70" font-size="10.1" text-anchor="end" textLength="35.6" lengthAdjust="spacingAndGlyphs">246.771</text>
<text x="708.10" y="455.70" font-size="10.1" text-anchor="end" textLength="35.6" lengthAdjust="spacingAndGlyphs">306.598</text>
<text x="11.00" y="465.50" font-size="9.7" textLength="67.7" lengthAdjust="spacingAndGlyphs">Dempa (Bunge)</text>
<text x="178.80" y="465.50" font-size="10.1" text-anchor="end" textLength="30.1" lengthAdjust="spacingAndGlyphs">61.329</text>
<text x="238.90" y="465.50" font-size="10.1" text-anchor="end" textLength="35.6" lengthAdjust="spacingAndGlyphs">486.263</text>
<text x="538.90" y="465.50" font-size="10.1" text-anchor="end" textLength="35.6" lengthAdjust="spacingAndGlyphs">547.592</text>
<text x="708.10" y="465.50" font-size="10.1" text-anchor="end" textLength="35.6" lengthAdjust="spacingAndGlyphs">547.592</text>
<text x="11.00" y="475.90" font-size="9.7" textLength="66.5" lengthAdjust="spacingAndGlyphs">Pampa (Bunge)</text>
<text x="178.80" y="475.90" font-size="10.1" text-anchor="end" textLength="30.1" lengthAdjust="spacingAndGlyphs">15.737</text>
<text x="238.90" y="475.90" font-size="10.1" text-anchor="end" textLength="35.6" lengthAdjust="spacingAndGlyphs">189.566</text>
<text x="361.00" y="475.90" font-size="10.1" text-anchor="end" textLength="24.6" lengthAdjust="spacingAndGlyphs">7.607</text>
<text x="421.10" y="475.90" font-size="10.1" text-anchor="end" textLength="24.6" lengthAdjust="spacingAndGlyphs">2.750</text>
<text x="538.90" y="475.90" font-size="10.1" text-anchor="end" textLength="35.6" lengthAdjust="spacingAndGlyphs">215.660</text>
<text x="708.10" y="475.90" font-size="10.1" text-anchor="end" textLength="35.6" lengthAdjust="spacingAndGlyphs">215.660</text>
<text x="11.00" y="486.30" font-size="9.7" textLength="29.6" lengthAdjust="spacingAndGlyphs">Nidera</text>
<text x="178.80" y="486.30" font-size="10.1" text-anchor="end" textLength="35.6" lengthAdjust="spacingAndGlyphs">183.244</text>
<text x="238.90" y="486.30" font-size="10.1" text-anchor="end" textLength="43.8" lengthAdjust="spacingAndGlyphs">1.350.680</text>
<text x="300.00" y="486.30" font-size="10.1" text-anchor="end" textLength="30.1" lengthAdjust="spacingAndGlyphs">17.755</text>
<text x="361.00" y="486.30" font-size="10.1" text-anchor="end" textLength="30.1" lengthAdjust="spacingAndGlyphs">89.596</text>
<text x="421.10" y="486.30" font-size="10.1" text-anchor="end" textLength="30.1" lengthAdjust="spacingAndGlyphs">81.235</text>
<text x="538.90" y="486.30" font-size="10.1" text-anchor="end" textLength="43.8" lengthAdjust="spacingAndGlyphs">1.722.510</text>
<text x="708.10" y="486.30" font-size="10.1" text-anchor="end" textLength="43.8" lengthAdjust="spacingAndGlyphs">1.722.510</text>
<text x="11.00" y="496.70" font-size="9.7" textLength="49.5" lengthAdjust="spacingAndGlyphs">Quebracho</text>
<text x="178.80" y="496.70" font-size="10.1" text-anchor="end" textLength="30.1" lengthAdjust="spacingAndGlyphs">76.068</text>
<text x="238.90" y="496.70" font-size="10.1" text-anchor="end" textLength="35.6" lengthAdjust="spacingAndGlyphs">816.931</text>
<text x="421.10" y="496.70" font-size="10.1" text-anchor="end" textLength="24.6" lengthAdjust="spacingAndGlyphs">9.670</text>
<text x="538.90" y="496.70" font-size="10.1" text-anchor="end" textLength="35.6" lengthAdjust="spacingAndGlyphs">902.669</text>
<text x="618.30" y="496.70" font-size="10.1" text-anchor="end" textLength="43.8" lengthAdjust="spacingAndGlyphs">1.307.667</text>
<text x="708.10" y="496.70" font-size="10.1" text-anchor="end" textLength="43.8" lengthAdjust="spacingAndGlyphs">2.210.336</text>
<text x="11.00" y="507.50" font-size="9.7" textLength="90.6" lengthAdjust="spacingAndGlyphs">San Benito (Molinos)</text>
<text x="238.90" y="507.50" font-size="10.1" text-anchor="end" textLength="30.1" lengthAdjust="spacingAndGlyphs">46.414</text>
<text x="538.90" y="507.50" font-size="10.1" text-anchor="end" textLength="30.1" lengthAdjust="spacingAndGlyphs">46.414</text>
<text x="708.10" y="507.50" font-size="10.1" text-anchor="end" textLength="30.1" lengthAdjust="spacingAndGlyphs">46.414</text>
<text x="11.00" y="517.50" font-size="9.7" textLength="49.5" lengthAdjust="spacingAndGlyphs">Terminal VI</text>
<text x="178.80" y="517.50" font-size="10.1" text-anchor="end" textLength="30.1" lengthAdjust="spacingAndGlyphs">56.179</text>
<text x="238.90" y="517.50" font-size="10.1" text-anchor="end" textLength="43.8" lengthAdjust="spacingAndGlyphs">1.591.123</text>
<text x="361.00" y="517.50" font-size="10.1" text-anchor="end" textLength="35.6" lengthAdjust="spacingAndGlyphs">217.948</text>
<text x="421.10" y="517.50" font-size="10.1" text-anchor="end" textLength="24.6" lengthAdjust="spacingAndGlyphs">5.000</text>
<text x="538.90" y="517.50" font-size="10.1" text-anchor="end" textLength="43.8" lengthAdjust="spacingAndGlyphs">1.870.250</text>
<text x="618.30" y="517.50" font-size="10.1" text-anchor="end" textLength="35.6" lengthAdjust="spacingAndGlyphs">456.869</text>
<text x="708.10" y="517.50" font-size="10.1" text-anchor="end" textLength="43.8" lengthAdjust="spacingAndGlyphs">2.327.119</text>
<text x="11.00" y="528.30" font-size="9.7" textLength="79.4" lengthAdjust="spacingAndGlyphs">Timbúes (Dreyfus)</text>
<text x="238.90" y="528.30" font-size="10.1" text-anchor="end" textLength="35.6" lengthAdjust="spacingAndGlyphs">400.209</text>
<text x="421.10" y="528.30" font-size="10.1" text-anchor="end" textLength="35.6" lengthAdjust="spacingAndGlyphs">117.079</text>
<text x="538.90" y="528.30" font-size="10.1" text-anchor="end" textLength="35.6" lengthAdjust="spacingAndGlyphs">517.288</text>
<text x="618.30" y="528.30" font-size="10.1" text-anchor="end" textLength="43.8" lengthAdjust="spacingAndGlyphs">1.795.991</text>
<text x="708.10" y="528.30" font-size="10.1" text-anchor="end" textLength="43.8" lengthAdjust="spacingAndGlyphs">2.313.279</text>
<text x="11.00" y="538.80" font-size="9.7" textLength="71.4" lengthAdjust="spacingAndGlyphs">Timbúes (Noble)</text>
<text x="178.80" y="538.80" font-size="10.1" text-anchor="end" textLength="30.1" lengthAdjust="spacingAndGlyphs">78.186</text>
<text x="238.90" y="538.80" font-size="10.1" text-anchor="end" textLength="43.8" lengthAdjust="spacingAndGlyphs">1.438.823</text>
<text x="300.00" y="538.80" font-size="10.1" text-anchor="end" textLength="30.1" lengthAdjust="spacingAndGlyphs">26.293</text>
<text x="421.10" y="538.80" font-size="10.1" text-anchor="end" textLength="30.1" lengthAdjust="spacingAndGlyphs">29.726</text>
<text x="538.90" y="538.80" font-size="10.1" text-anchor="end" textLength="43.8" lengthAdjust="spacingAndGlyphs">1.573.028</text>
<text x="708.10" y="538.80" font-size="10.1" text-anchor="end" textLength="43.8" lengthAdjust="spacingAndGlyphs">1.573.028</text>
<text x="11.00" y="549.30" font-size="9.7" textLength="35.8" lengthAdjust="spacingAndGlyphs">Tránsito</text>
<text x="178.80" y="549.30" font-size="10.1" text-anchor="end" textLength="30.1" lengthAdjust="spacingAndGlyphs">95.616</text>
<text x="238.90" y="549.30" font-size="10.1" text-anchor="end" textLength="43.8" lengthAdjust="spacingAndGlyphs">1.498.203</text>
<text x="361.00" y="549.30" font-size="10.1" text-anchor="end" textLength="35.6" lengthAdjust="spacingAndGlyphs">740.816</text>
<text x="421.10" y="549.30" font-size="10.1" text-anchor="end" textLength="24.6" lengthAdjust="spacingAndGlyphs">6.700</text>
<text x="468.50" y="549.30" font-size="10.1" text-anchor="end" textLength="30.1" lengthAdjust="spacingAndGlyphs">16.428</text>
<text x="538.90" y="549.30" font-size="10.1" text-anchor="end" textLength="43.8" lengthAdjust="spacingAndGlyphs">2.357.763</text>
<text x="708.10" y="549.30" font-size="10.1" text-anchor="end" textLength="43.8" lengthAdjust="spacingAndGlyphs">2.357.763</text>
<text x="2.20" y="562.20" font-size="9.7" font-weight="bold" stroke="none" textLength="29.1" lengthAdjust="spacingAndGlyphs">TOTAL</text>
<text x="178.80" y="562.20" font-size="10.1" text-anchor="end" font-weight="bold" stroke="none" textLength="43.8" lengthAdjust="spacingAndGlyphs">2.444.179</text>
<text x="238.90" y="562.20" font-size="10.1" text-anchor="end" font-weight="bold" stroke="none" textLength="49.2" lengthAdjust="spacingAndGlyphs">19.500.458</text>
<text x="300.00" y="562.20" font-size="10.1" text-anchor="end" font-weight="bold" stroke="none" textLength="43.8" lengthAdjust="spacingAndGlyphs">3.215.125</text>
<text x="361.00" y="562.20" font-size="10.1" text-anchor="end" font-weight="bold" stroke="none" textLength="43.8" lengthAdjust="spacingAndGlyphs">2.207.544</text>
<text x="421.10" y="562.20" font-size="10.1" text-anchor="end" font-weight="bold" stroke="none" textLength="43.8" lengthAdjust="spacingAndGlyphs">7.630.471</text>
<text x="468.50" y="562.20" font-size="10.1" text-anchor="end" font-weight="bold" stroke="none" textLength="35.6" lengthAdjust="spacingAndGlyphs">131.224</text>
<text x="538.90" y="562.20" font-size="10.1" text-anchor="end" font-weight="bold" stroke="none" textLength="49.2" lengthAdjust="spacingAndGlyphs">35.842.798</text>
<text x="618.30" y="562.20" font-size="10.1" text-anchor="end" font-weight="bold" stroke="none" textLength="43.8" lengthAdjust="spacingAndGlyphs">4.099.307</text>
<text x="708.10" y="562.20" font-size="10.1" text-anchor="end" font-weight="bold" stroke="none" textLength="49.2" lengthAdjust="spacingAndGlyphs">39.942.105</text>
<text x="744.10" y="562.20" font-size="10.1" text-anchor="end" font-weight="bold" stroke="none" textLength="24.3" lengthAdjust="spacingAndGlyphs">100%</text>
<text x="2.20" y="578.00" font-size="9.7" font-weight="bold" stroke="none" textLength="70.8" lengthAdjust="spacingAndGlyphs">Up River Parana</text>
<text x="178.80" y="578.00" font-size="10.1" text-anchor="end" font-weight="bold" stroke="none" textLength="43.8" lengthAdjust="spacingAndGlyphs">1.205.628</text>
<text x="238.90" y="578.00" font-size="10.1" text-anchor="end" font-weight="bold" stroke="none" textLength="49.2" lengthAdjust="spacingAndGlyphs">15.725.280</text>
<text x="300.00" y="578.00" font-size="10.1" text-anchor="end" font-weight="bold" stroke="none" textLength="35.6" lengthAdjust="spacingAndGlyphs">395.167</text>
<text x="361.00" y="578.00" font-size="10.1" text-anchor="end" font-weight="bold" stroke="none" textLength="43.8" lengthAdjust="spacingAndGlyphs">2.172.916</text>
<text x="421.10" y="578.00" font-size="10.1" text-anchor="end" font-weight="bold" stroke="none" textLength="43.8" lengthAdjust="spacingAndGlyphs">1.725.177</text>
<text x="468.50" y="578.00" font-size="10.1" text-anchor="end" font-weight="bold" stroke="none" textLength="30.1" lengthAdjust="spacingAndGlyphs">84.399</text>
<text x="538.90" y="578.00" font-size="10.1" text-anchor="end" font-weight="bold" stroke="none" textLength="49.2" lengthAdjust="spacingAndGlyphs">21.308.567</text>
<text x="618.30" y="578.00" font-size="10.1" text-anchor="end" font-weight="bold" stroke="none" textLength="43.8" lengthAdjust="spacingAndGlyphs">4.099.307</text>
<text x="708.10" y="578.00" font-size="10.1" text-anchor="end" font-weight="bold" stroke="none" textLength="49.2" lengthAdjust="spacingAndGlyphs">25.407.874</text>
<text x="2.2" y="592.8" font-size="8.6" textLength="71.5" lengthAdjust="spacingAndGlyphs">Participación / <tspan font-style="italic">Share</tspan></text>
<text x="178.50" y="592.80" font-size="8.4" text-anchor="end" textLength="22.0" lengthAdjust="spacingAndGlyphs">49,3%</text>
<text x="238.60" y="592.80" font-size="8.4" text-anchor="end" textLength="22.0" lengthAdjust="spacingAndGlyphs">80,6%</text>
<text x="299.70" y="592.80" font-size="8.4" text-anchor="end" textLength="22.0" lengthAdjust="spacingAndGlyphs">12,3%</text>
<text x="360.70" y="592.80" font-size="8.4" text-anchor="end" textLength="22.0" lengthAdjust="spacingAndGlyphs">98,4%</text>
<text x="420.80" y="592.80" font-size="8.4" text-anchor="end" textLength="22.0" lengthAdjust="spacingAndGlyphs">22,6%</text>
<text x="468.20" y="592.80" font-size="8.4" text-anchor="end" textLength="22.0" lengthAdjust="spacingAndGlyphs">64,3%</text>
<text x="538.60" y="592.80" font-size="8.4" text-anchor="end" textLength="22.0" lengthAdjust="spacingAndGlyphs">59,5%</text>
<text x="618.00" y="592.80" font-size="8.4" text-anchor="end" textLength="26.5" lengthAdjust="spacingAndGlyphs">100,0%</text>
<text x="707.80" y="592.80" font-size="8.4" text-anchor="end" textLength="22.0" lengthAdjust="spacingAndGlyphs">63,6%</text>
<text x="375.00" y="605.90" font-size="8.4" text-anchor="middle" textLength="729.0" lengthAdjust="spacingAndGlyphs">/1 Participación del puerto respecto del total de embarques de origen argentino.  /2 Participación del puerto respecto del total de embarques de origen que no sea argentino.  /3 Participación respecto del total de</text>
<text x="373.60" y="616.60" font-size="8.4" text-anchor="middle" textLength="739.5" lengthAdjust="spacingAndGlyphs">embarques. /// Total general incluye: 535.721 tn de arroz y 178.076 tn de maní, donde la participación relativa de estos productos asciende a aprox. al 2% del total /// Fuente:  MAGyP y Anuario Estadístico de la Bolsa</text>
<text x="373.40" y="628.90" font-size="8.4" text-anchor="middle" textLength="82.5" lengthAdjust="spacingAndGlyphs">de comercio de Rosario.</text>
</g>
<g fill="#fff" shape-rendering="crispEdges">
<rect x="2" y="183" width="743" height="2"/>
<rect x="2" y="355" width="743" height="2"/>
</g>
<g fill="#000" shape-rendering="crispEdges">
<rect x="0" y="0" width="747" height="2"/>
<rect x="0" y="640" width="747" height="2"/>
<rect x="0" y="0" width="2" height="642"/>
<rect x="745" y="0" width="2" height="642"/>
<rect x="2" y="45" width="743" height="1"/>
<rect x="2" y="112" width="743" height="1"/>
<rect x="2" y="182" width="743" height="1"/>
<rect x="2" y="229" width="743" height="1"/>
<rect x="2" y="244" width="743" height="1"/>
<rect x="2" y="259" width="743" height="1"/>
<rect x="2" y="274" width="743" height="1"/>
<rect x="2" y="289" width="743" height="1"/>
<rect x="2" y="304" width="743" height="1"/>
<rect x="2" y="319" width="743" height="1"/>
<rect x="2" y="354" width="743" height="1"/>
<rect x="2" y="421" width="743" height="1"/>
<rect x="2" y="551" width="743" height="1"/>
<rect x="2" y="566" width="743" height="1"/>
<rect x="2" y="596" width="743" height="1"/>
<rect x="119" y="45" width="1" height="552"/>
<rect x="180" y="45" width="1" height="552"/>
<rect x="240" y="45" width="1" height="552"/>
<rect x="301" y="45" width="1" height="552"/>
<rect x="362" y="45" width="1" height="552"/>
<rect x="421" y="45" width="1" height="552"/>
<rect x="470" y="45" width="1" height="552"/>
<rect x="566" y="45" width="1" height="552"/>
<rect x="647" y="45" width="1" height="552"/>
</g>
</svg>
</body></html>
